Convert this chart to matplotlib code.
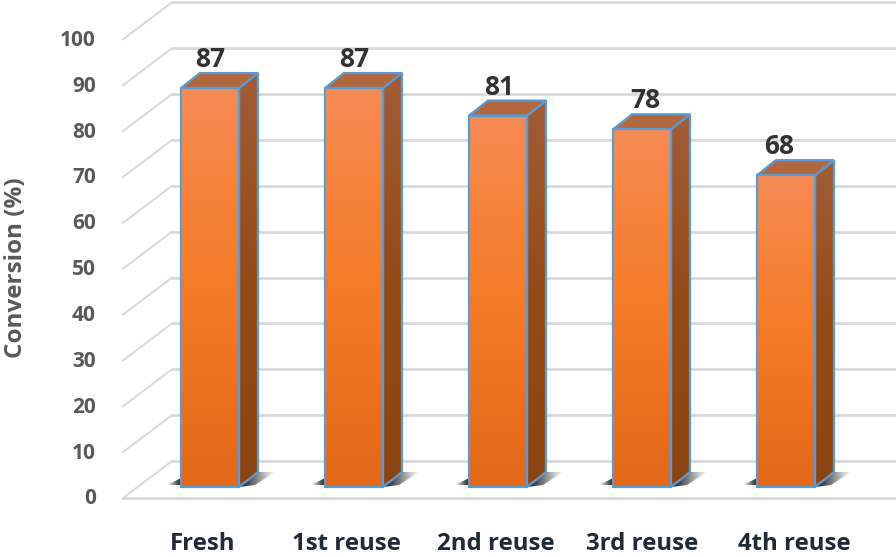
import numpy as np
import matplotlib
matplotlib.use('Agg')
import matplotlib.pyplot as plt
from matplotlib.colors import LinearSegmentedColormap
from matplotlib.patches import Polygon

# Values
categories = ['Fresh', '1st reuse', '2nd reuse', '3rd reuse', '4th reuse']
conversion = [87, 87, 81, 78, 68]
y_ticks = [0, 10, 20, 30, 40, 50, 60, 70, 80, 90, 100]

plt.rcParams['font.family'] = ['Open Sans', 'DejaVu Sans']

W, H = 896, 557
px_x = 144.0    # pixels per category
px_y = 4.586    # pixels per percent
x0_px = 210.0   # first bar centre
y0_px = 487.0   # zero level at the bar foot

fig = plt.figure(figsize=(W / 100, H / 100), dpi=100)
ax = fig.add_axes([0, 0, 1, 1])
ax.set_xlim(-x0_px / px_x, (W - x0_px) / px_x)
ax.set_ylim((y0_px - H) / px_y, y0_px / px_y)
ax.axis('off')

bar_w = 58 / px_x
dx = 19 / px_x      # depth of the bar
dy = 15 / px_y
floor_front = -11 / px_y
floor_back = 26 / px_y
wall_left = (172 - x0_px) / px_x
wall_front = (123 - x0_px) / px_x
right_end = (W - x0_px) / px_x

# small nudges (px) so the labels sit where the original has them
value_nudge = [0, 0, 1, 3, -7]
label_nudge = [-7, -8, -2, 0, 8]

front_cmap = LinearSegmentedColormap.from_list('front', ['#E2681A', '#F57B27', '#F48B55'])
side_cmap = LinearSegmentedColormap.from_list('side', ['#8A4512', '#934A18', '#A05E38'])
grad = np.linspace(0, 1, 256).reshape(-1, 1)
edge = '#5B9BD5'
grid_c = '#D9D9D9'


def gradient_poly(pts, cmap, z):
    # fill a polygon with a vertical gradient by clipping an image
    xs = [p[0] for p in pts]
    ys = [p[1] for p in pts]
    im = ax.imshow(grad, cmap=cmap, origin='lower', aspect='auto', zorder=z,
                   extent=(min(xs), max(xs), min(ys), max(ys)))
    poly = Polygon(pts, closed=True, fc='none', ec=edge, lw=1.6, zorder=z + 0.1)
    ax.add_patch(poly)
    im.set_clip_path(poly)


# gridlines on the back wall and the diagonal floor lines
for v in y_ticks:
    ax.plot([wall_left, right_end], [v + floor_back, v + floor_back], color=grid_c, lw=2, zorder=1)
    ax.plot([wall_front, wall_left], [v + floor_front, v + floor_back], color=grid_c, lw=1.4, zorder=1)
ax.plot([wall_front, right_end], [floor_front, floor_front], color=grid_c, lw=2, zorder=1)

shadow_l = np.zeros((1, 64, 4))
shadow_l[..., 3] = np.linspace(0, 0.9, 64)
shadow_r = np.zeros((1, 64, 4))
shadow_r[..., 3] = np.linspace(0.95, 0, 64)

for i, val in enumerate(conversion):
    l, r = i - bar_w / 2, i + bar_w / 2

    # soft shadow on the floor, both sides of the foot
    pts = [(l - 14 / px_x, 2 / px_y), (l, 2 / px_y), (l, 9 / px_y)]
    im = ax.imshow(shadow_l, origin='lower', aspect='auto', zorder=2,
                   extent=(l - 14 / px_x, l, 2 / px_y, 9 / px_y))
    p = Polygon(pts, closed=True, fc='none', ec='none', zorder=2)
    ax.add_patch(p)
    im.set_clip_path(p)
    pts = [(r, 0), (r + dx, dy), (r + 36 / px_x, dy), (r + 16 / px_x, 2 / px_y)]
    im = ax.imshow(shadow_r, origin='lower', aspect='auto', zorder=2,
                   extent=(r, r + 36 / px_x, 0, dy))
    p = Polygon(pts, closed=True, fc='none', ec='none', zorder=2)
    ax.add_patch(p)
    im.set_clip_path(p)

    gradient_poly([(r, 0), (r + dx, dy), (r + dx, val + dy), (r, val)], side_cmap, 3)
    ax.add_patch(Polygon([(l, val), (r, val), (r + dx, val + dy), (l + dx, val + dy)],
                         closed=True, fc='#B1683F', ec=edge, lw=1.6, zorder=4))
    gradient_poly([(l, 0), (r, 0), (r, val), (l, val)], front_cmap, 5)

    ax.text(i + value_nudge[i] / px_x, val + dy + 0.0, str(val), ha='center', va='bottom',
            fontsize=19, fontweight='bold', color='#333333', zorder=6)
    ax.text(i + label_nudge[i] / px_x, -12.5, categories[i], ha='center', va='center',
            fontsize=17.3, fontweight='bold', color='#1F2A3A', zorder=6)

# value axis labels, placed left of the front edge of the floor
tick_x = (96 - x0_px) / px_x
for v in y_ticks:
    ax.text(tick_x, v + floor_front - 0.2, str(v), ha='right', va='center',
            fontsize=15, fontweight='bold', color='#595959', zorder=6)

ax.text((16 - x0_px) / px_x, (y0_px - 268) / px_y, 'Conversion (%)', rotation=90,
        ha='center', va='center', fontsize=17.5, fontweight='bold', color='#595959', zorder=6)

ax.set_xlim(-x0_px / px_x, (W - x0_px) / px_x)
ax.set_ylim((y0_px - H) / px_y, y0_px / px_y)
fig.savefig('out.png', dpi=100, facecolor='white')
